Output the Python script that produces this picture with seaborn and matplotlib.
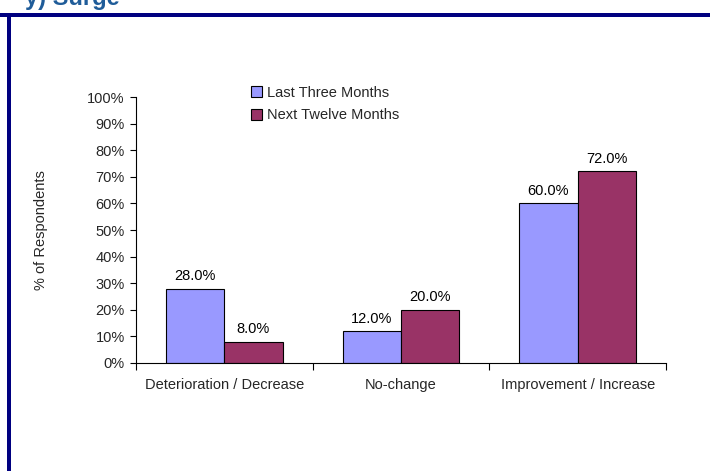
import matplotlib
matplotlib.use("Agg")
import matplotlib.pyplot as plt
import matplotlib.patches as mpatches
import seaborn as sns
import pandas as pd

categories = ["Deterioration / Decrease", "No-change", "Improvement / Increase"]
series_names = ["Last Three Months", "Next Twelve Months"]
last_three = [28.0, 12.0, 60.0]
next_twelve = [8.0, 20.0, 72.0]
y_ticks = [0, 10, 20, 30, 40, 50, 60, 70, 80, 90, 100]
colors = ["#9999FF", "#993366"]

df = pd.DataFrame({
    "Category": categories * 2,
    "Series": [series_names[0]] * 3 + [series_names[1]] * 3,
    "Value": last_three + next_twelve,
})

sns.set_theme(style="white")
plt.rcParams["font.family"] = ["Liberation Sans", "DejaVu Sans"]

FS = 10.5

fig = plt.figure(figsize=(7.10, 4.71), dpi=100)
ax = fig.add_axes([0.1915, 0.2293, 0.7465, 0.5647])

sns.barplot(data=df, x="Category", y="Value", hue="Series", order=categories,
            hue_order=series_names, palette=colors, width=0.66, gap=0,
            edgecolor="black", linewidth=0.8, saturation=1, ax=ax)

for cont in ax.containers:
    ax.bar_label(cont, labels=[f"{v:.1f}%" for v in cont.datavalues],
                 padding=4, fontsize=FS, color="black")

ax.set_ylim(0, 100)
ax.set_xlim(-0.5, 2.5)
ax.set_yticks(y_ticks)
ax.set_yticklabels([f"{t}%" for t in y_ticks], fontsize=FS)
ax.set_xticks([0, 1, 2])
ax.set_xticklabels(categories, fontsize=FS)
ax.tick_params(axis="x", length=0, pad=11)
ax.set_xticks([-0.5, 0.5, 1.5, 2.5], minor=True)
ax.tick_params(axis="x", which="minor", length=5, width=0.8, color="black", direction="out", bottom=True)
ax.tick_params(axis="y", length=4, width=0.8, color="black", direction="out", left=True, pad=4)
ax.set_xlabel("")
ax.set_ylabel("% of Respondents", fontsize=FS, labelpad=28)

for s in ["top", "right"]:
    ax.spines[s].set_visible(False)
for s in ["left", "bottom"]:
    ax.spines[s].set_color("black")
    ax.spines[s].set_linewidth(0.8)

ax.legend(loc="upper left", bbox_to_anchor=(0.206, 1.065), frameon=False,
          fontsize=FS, handlelength=0.75, handleheight=0.75, handletextpad=0.35,
          labelspacing=0.6, borderaxespad=0)

# decorative border lines of the slide
fig.add_artist(mpatches.Rectangle((0, 1 - 17 / 471), 1, 4 / 471, transform=fig.transFigure,
                                  color="#000080", lw=0))
fig.add_artist(mpatches.Rectangle((7 / 710, 0), 4 / 710, 1 - 15 / 471, transform=fig.transFigure,
                                  color="#000080", lw=0))
fig.text(0.035, 1.004, "y) Surge", fontsize=17, fontweight="bold", color="#1F5C99",
         va="center", ha="left")

fig.savefig("out.png", dpi=100)
